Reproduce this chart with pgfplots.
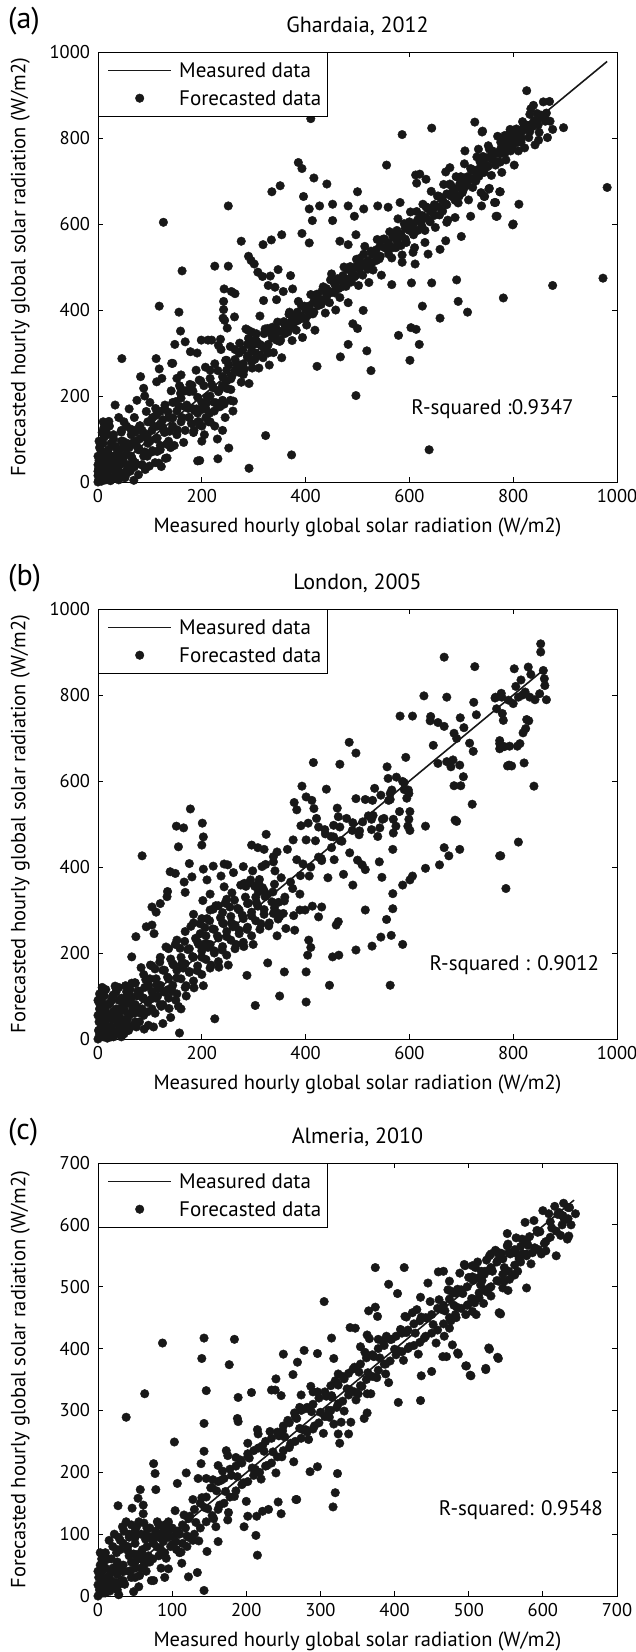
\documentclass[border=0pt]{standalone}
\usepackage{pgfplots}
\pgfplotsset{compat=1.18}
\usepackage{fontspec}
\setmainfont{PT Sans}
\definecolor{dk}{RGB}{24,24,24}
\newcommand{\tickfont}{\fontsize{18.5}{21}\selectfont}
\newcommand{\labfont}{\fontsize{20.5}{23}\selectfont}
\newcommand{\titfont}{\fontsize{22}{24}\selectfont}
\newcommand{\legfont}{\fontsize{21}{24}\selectfont}
\newcommand{\panfont}{\fontsize{30}{32}\selectfont}
\pgfplotsset{
 myax/.style={
  scale only axis, anchor=south west, width=519pt,
  clip=false, axis line style={line width=0.9pt, black},
  every tick/.style={black, line width=0.8pt}, major tick length=5pt,
  tick align=inside,
  /pgf/number format/assume math mode=true,
  /pgf/number format/1000 sep={},
  tick label style={font=\tickfont},
  yticklabel style={xshift=-4.5pt},
  xticklabel style={yshift=-4pt},
  xlabel={Measured hourly global solar radiation (W/m2)},
  ylabel={Forecasted hourly global solar radiation (W/m2)},
  every axis x label/.style={at={(rel axis cs:0.5,0)}, anchor=base, yshift=-50pt, font=\labfont},
  every axis y label/.style={at={(rel axis cs:0,0.5)}, anchor=base, rotate=90, yshift=72.5pt, font=\labfont},
  title style={at={(rel axis cs:0.5,1)}, anchor=base, yshift=14pt, font=\titfont},
  legend style={at={(rel axis cs:0,1)}, anchor=north west, draw=black, fill=white,
    inner xsep=4pt, inner ysep=4pt, row sep=0pt, font=\legfont,
    nodes={inner sep=2pt, text height=19pt, text depth=5pt}},
  legend cell align=left,
 },
 mline/.style={dk, line width=1.6pt,
   legend image code/.code={\draw[##1, line width=1pt] (0pt,0pt) -- (63pt,0pt); \path[draw=none,fill=none] (-6pt,0pt) -- (69pt,0pt);}},
 mdots/.style={only marks, mark=*, mark size=4.3pt, color=dk,
   legend image code/.code={\draw[##1] plot coordinates {(31.5pt,0pt)}; \path[draw=none,fill=none] (-6pt,0pt) -- (69pt,0pt);}},
}
\begin{document}
\begin{tikzpicture}
\path[use as bounding box] (0,0) rectangle (636pt,-1652pt);
% ---------------- (a) ----------------
\begin{axis}[myax, at={(98pt,-482pt)}, height=430pt,
  xmin=0, xmax=1000, ymin=0, ymax=1000,
  xtick={0,200,400,600,800,1000}, ytick={0,200,400,600,800,1000},
  title={Ghardaia, 2012}]
\addplot[mline] coordinates {(0,0) (981,978)};
\addlegendentry{Measured data}
\addplot[mdots] coordinates {
(0,0)(2,5)(3,12)(5,20)(1,30)(4,40)(2,50)(6,60)(8,8)(10,15)(12,25)(9,35)(14,45)(6,70)(3,80)(10,90)(15,5)(18,20)(20,35)(22,50)(25,60)(20,75)(28,10)(30,30)(32,45)(35,55)(38,70)(40,25)(42,40)(45,60)(25,90)(30,100)(12,105)(48,80)(50,45)(1,2)(0,15)(0,25)(7,2)(16,12)(35,15)(55,20)(0,60)(2,95)(8,115)(18,110)(0,40)(4,3)(24,3)(12,55)
(5,85)(15,70)(25,40)(35,80)(45,95)(55,65)(65,90)(60,40)(70,120)(80,100)(15,120)(22,130)(10,140)(50,140)(30,60)(20,10)(40,5)(52,10)(62,25)(70,35)(85,120)(95,110)(100,95)(105,150)(115,130)(125,145)
(40,150)(60,170)(75,190)(55,130)(90,200)(70,150)(100,185)(30,110)(45,120)
(78,17)(91,29)(122,36)(133,56)(114,71)(95,60)(110,45)(120,75)(130,55)(85,40)(140,80)
(185,120)(195,140)(205,110)(215,160)(225,130)(235,175)(245,150)(255,190)(200,95)(190,170)(230,100)(260,165)(175,150)(210,185)(240,120)
(40,25)(40,70)(48,55)(48,95)(56,30)(56,80)(64,60)(64,110)(72,45)(72,95)(80,75)(80,130)(88,60)(88,105)(96,90)(96,140)(104,70)(104,120)(112,100)(112,155)(120,85)(120,135)(128,115)(128,170)(136,95)(136,150)(144,130)(144,185)(152,110)(152,165)(160,140)(160,195)(168,120)(168,175)(176,150)(176,210)(184,115)(184,170)(192,160)(192,140)(200,130)(200,185)(208,170)(208,150)(216,140)(216,200)(224,185)(224,165)(232,210)(232,180)(240,225)(240,190)(248,235)(248,260)(256,240)(256,215)(264,260)(264,285)(272,255)(272,300)(280,275)(280,250)(288,290)(288,320)(296,280)(296,305)(304,300)(304,330)(312,295)(312,320)(320,310)(320,345)(328,320)(328,300)(336,335)(336,360)(344,330)(344,355)(352,350)(352,330)(360,365)(360,345)(368,370)(368,390)(376,380)(376,360)(384,395)(384,375)(392,385)(392,410)(400,400)(400,380)(408,410)(408,390)(416,420)(416,395)(424,430)(424,410)(432,445)(432,420)(440,450)(440,430)(448,440)(448,470)(456,460)(456,440)(464,470)(464,450)(472,480)(472,455)(480,470)(480,495)(488,490)(488,465)(496,500)(496,480)(504,495)(504,520)(512,505)(512,530)(520,515)(520,495)(528,530)(528,510)(536,540)(536,515)(544,550)(544,525)(552,545)(552,565)(560,555)(560,530)(568,570)(568,545)(576,560)(576,585)(584,575)(584,550)(592,590)(592,565)(600,585)(600,605)(608,600)(608,575)(616,610)(616,585)(624,620)(624,595)(632,615)(632,640)(640,630)(640,605)(648,645)(648,620)(656,640)(656,665)(664,655)(664,630)(672,670)(672,645)(680,665)(680,690)(688,680)(688,655)(696,690)(696,665)(704,700)(704,680)(712,710)(712,690)(720,705)(720,725)(728,720)(728,700)(736,730)(736,745)(744,740)(744,720)(752,755)(752,735)(760,750)(760,770)(768,765)(768,745)(776,775)(776,790)(784,780)(784,765)(792,790)(792,775)(800,800)(800,785)(808,805)(808,790)(816,815)(816,800)(824,820)(832,830)(832,815)(840,840)(848,845)(848,830)(856,850)(864,858)
(30,27)(33,83)(36,8)(39,67)(42,22)(45,116)(48,53)(51,11)(54,91)(57,25)(60,80)(63,123)(66,54)(69,4)(72,116)(75,83)(78,75)(81,131)(84,40)(87,115)(90,70)(93,164)(96,101)(99,37)(102,139)(105,73)(108,128)(111,171)(114,102)(117,44)(120,164)(123,131)(126,123)(129,179)(132,88)(135,163)(138,118)(141,212)(144,149)(147,85)(150,187)(153,121)(156,176)(159,219)(162,150)(165,92)(168,212)(171,179)(174,171)(177,227)(180,136)(183,211)(186,166)(189,260)(192,197)(195,133)(198,235)(201,169)(204,224)(207,267)(210,198)(213,140)(216,260)(219,227)(222,219)(225,275)(228,184)(231,259)(234,214)(237,308)(240,245)(243,181)(246,283)(249,217)(252,272)(255,315)(258,246)(261,188)(264,308)(267,275)(270,267)(273,323)(276,232)(279,307)(282,262)(285,356)(288,293)(291,229)(294,331)(297,265)(300,320)
(302,285)(306,326)(310,265)(314,318)(318,289)(322,356)(326,315)(330,272)(334,345)(338,301)(342,341)(346,372)(350,327)(354,289)(358,373)(362,353)(366,349)(370,390)(374,329)(378,382)(382,353)(386,420)(390,379)(394,336)(398,409)(402,365)(406,405)(410,436)(414,391)(418,353)(422,437)(426,417)(430,413)(434,454)(438,393)(442,446)(446,417)(450,484)(454,443)(458,400)(462,473)(466,429)(470,469)(474,500)(478,455)(482,417)(486,501)(490,481)(494,477)(498,518)(502,457)(506,510)(510,481)(514,548)(518,507)(522,464)(526,537)(530,493)(534,533)(538,564)(542,519)(546,481)(550,565)(554,545)(558,541)(562,582)(566,521)(570,574)(574,545)(578,612)(582,571)(586,528)(590,601)(594,557)(598,597)(602,628)(606,583)(610,545)(614,629)(618,609)(622,605)(626,646)(630,585)(634,638)(638,609)(642,676)(646,635)(650,592)(654,665)(658,621)(662,661)(666,692)(670,647)(674,609)(678,693)(682,673)(686,669)(690,710)(694,649)(698,702)(702,673)(706,740)(710,699)(714,656)(718,729)(722,685)(726,725)(730,756)(734,711)(738,673)(742,757)(746,737)(750,733)(754,774)(758,713)(762,766)(766,737)(770,804)(774,763)(778,720)(782,793)(786,749)(790,789)(794,820)(798,775)(802,737)(806,821)(810,801)(814,797)(818,838)(822,777)(826,830)(830,801)(834,868)(838,827)(842,784)(846,857)(850,813)(854,853)(858,884)(862,839)(866,801)(870,885)
(410,845)(726,837)(740,814)(643,823)(586,808)(784,806)(793,810)(799,598)(386,743)(393,729)(416,707)(441,693)(556,737)(335,675)(351,689)(396,664)(251,642)(126,604)(407,635)(427,642)(452,646)(482,642)(500,675)(512,635)(539,642)(559,639)(582,650)(413,608)(452,608)(494,618)(276,560)(318,552)(334,563)(354,575)(393,578)(407,556)(466,560)(482,552)(497,575)(290,525)(295,515)(301,507)(308,488)(317,478)(332,479)(328,457)(341,453)(347,494)(371,480)(225,502)(251,502)(162,491)(243,449)(257,443)(264,438)(242,420)(242,401)(241,381)(244,376)(249,358)(263,384)(118,409)(156,395)(159,351)(168,326)(148,320)(144,276)(178,303)(191,300)(199,330)(212,330)(219,330)(236,332)(232,318)(248,283)(290,334)(289,353)(296,349)(305,345)(312,386)(319,422)(344,424)(357,443)(375,449)(369,395)(378,372)(327,357)(46,287)(112,287)(118,263)(123,241)(82,245)(88,218)(113,233)(142,276)(152,241)(160,249)(157,224)(159,206)(181,225)(195,237)(216,241)(33,179)(21,141)(11,125)(323,108)(373,63)(291,32)(252,79)(231,54)(192,49)(196,50)(497,201)(638,75)(482,320)(467,291)(422,269)(518,305)(526,259)(579,341)(601,283)(603,359)(613,355)(619,320)(625,409)(659,381)(694,420)(712,395)(691,470)(643,463)(604,463)(566,459)(781,428)(511,399)(491,368)(500,357)(586,511)(611,507)(607,534)(630,557)(659,541)(670,561)(700,571)(636,530)(729,708)(754,683)(775,675)(745,664)(766,650)(769,618)(718,618)(739,642)(688,615)(672,604)(612,714)(620,716)(632,704)(614,695)(670,721)(678,731)(699,710)(733,774)(752,782)(775,744)(707,770)
(826,910)(839,876)(832,855)(855,851)(861,847)(871,839)(876,820)(897,824)(849,795)(981,685)(973,474)(876,457)(800,600)(811,646)(774,675)(753,681)(764,650)(767,618)(744,664)(741,816)(790,800)(805,812)(815,790)(820,825)(795,770)(810,770)
};
\addlegendentry{Forecasted data}
\node[anchor=base west, font=\legfont] at (axis cs:597,158) {R-squared :0.9347};
\node[anchor=base west, inner sep=0pt, font=\panfont] at (rel axis cs:0,1) [xshift=-90pt, yshift=24pt] {(a)};
\end{axis}
% ---------------- (b) ----------------
\begin{axis}[myax, at={(98pt,-1039pt)}, height=430pt,
  xmin=0, xmax=1000, ymin=0, ymax=1000,
  xtick={0,200,400,600,800,1000}, ytick={0,200,400,600,800,1000},
  title={London, 2005}]
\addplot[mline] coordinates {(0,0) (855,855)};
\addlegendentry{Measured data}
\addplot[mdots] coordinates {
(0,0)(3,10)(5,25)(2,40)(8,55)(4,70)(10,5)(12,20)(15,35)(18,50)(14,65)(20,80)(22,10)(25,28)(28,45)(30,60)(26,90)(35,15)(38,35)(40,50)(42,70)(45,5)(48,25)(50,45)(52,65)(55,85)(58,30)(60,55)(62,100)(1,20)(6,90)(12,100)(30,5)(35,110)(0,55)(2,85)(18,2)
(5,45)(10,35)(15,80)(22,55)(28,100)(35,70)(45,95)(55,110)(65,130)(70,60)(75,100)(85,70)(90,120)(100,140)(15,115)(8,120)(0,90)(40,120)(25,5)(50,12)(65,30)(80,40)
(110,60)(125,80)(140,50)(150,90)(160,70)(170,100)(115,100)(135,115)
(40,20)(40,55)(40,90)(48,35)(48,75)(56,45)(56,100)(56,20)(64,60)(64,95)(72,40)(72,80)(72,130)(80,70)(80,110)(88,55)(88,95)(88,150)(96,85)(96,125)(104,70)(104,110)(104,170)(112,95)(112,140)(120,80)(120,125)(120,190)(128,110)(128,160)(136,95)(136,140)(136,210)(144,125)(144,175)(152,105)(152,160)(152,230)(160,140)(160,190)(168,120)(168,175)(168,250)(176,155)(176,210)(184,135)(184,190)(184,270)(192,170)(192,225)(200,150)(200,205)(200,280)(208,185)(208,240)(216,165)(216,220)(216,300)(224,200)(224,255)(232,180)(232,235)(232,310)(240,215)(240,270)(248,195)(248,250)(256,230)(256,285)(264,210)(264,265)(272,245)(272,300)(280,225)(280,280)(288,260)(288,315)(296,240)(296,295)(304,275)(304,330)(312,255)(320,290)(320,345)(330,270)(340,305)(340,360)(350,285)(360,330)(375,350)(390,380)(410,400)(430,420)(450,445)(470,460)(490,485)(510,505)(530,520)(560,555)(590,580)
(20,21)(23,83)(26,20)(29,64)(32,13)(35,118)(38,48)(41,25)(44,90)(47,15)(50,76)(53,124)(56,46)(59,20)(62,115)(65,78)(68,69)(71,131)(74,28)(77,112)(80,61)(83,166)(86,96)(89,23)(92,138)(95,63)(98,124)(101,172)(104,94)(107,28)(110,163)(113,126)(116,117)(119,179)(122,76)(125,160)(128,109)(131,214)(134,144)(137,71)(140,186)(143,111)(146,172)(149,220)(152,142)(155,76)(158,211)(161,174)(164,165)(167,227)(170,124)(173,208)(176,157)(179,262)(182,192)(185,119)(188,234)(191,159)(194,220)(197,268)(200,190)(203,124)(206,259)(209,222)(212,213)(215,275)(218,172)(221,256)(224,205)(227,310)(230,240)(233,167)(236,282)(239,207)(242,268)(245,316)(248,238)(251,172)(254,307)(257,270)(260,261)(263,323)(266,220)(269,304)(272,253)(275,358)(278,288)(281,215)(284,330)(287,255)(290,316)(293,364)(296,286)(299,220)(302,355)(305,318)(308,309)(311,371)(314,268)(317,352)(320,301)(323,406)(326,336)(329,263)
(335,319)(341,391)(347,279)(353,375)(359,321)(365,441)(371,365)(377,287)(383,417)(389,337)(395,407)(401,463)(407,379)(413,309)(419,461)(425,423)(431,415)(437,487)(443,375)(449,471)(455,417)(461,537)(467,461)(473,383)(479,513)(485,433)(491,503)(497,559)(503,475)(509,405)(515,557)(521,519)(527,511)(533,583)(539,471)(545,567)(551,513)(557,633)(563,557)(569,479)(575,609)(581,529)(587,599)(593,655)(599,571)
(667,888)(726,866)(628,798)(672,795)(766,795)(777,804)(582,751)(606,751)(641,750)(640,740)(655,736)(667,727)(698,747)(729,754)(724,783)(646,683)(655,641)(672,645)(686,711)(691,699)(705,724)(716,688)(723,669)(684,649)(680,633)(697,637)(704,610)(686,589)(699,589)(721,546)(688,509)(691,506)(667,445)(676,426)(697,441)(658,405)(631,495)(631,397)(774,694)(783,680)(792,637)(774,426)(786,350)(484,690)(497,665)(466,639)(415,643)(440,581)(393,588)(378,550)(383,533)(401,563)(412,555)(416,536)(421,513)(405,502)(391,496)(376,463)(425,493)(438,477)(454,497)(463,517)(466,493)(454,470)(559,606)(566,579)(529,555)(563,571)(590,596)(598,579)(595,560)(601,529)(599,511)(597,495)(601,485)(574,495)(569,511)(548,511)(543,491)(527,487)(504,484)(568,441)(542,412)(547,376)(568,338)(568,303)(587,358)(601,370)(606,379)(587,220)(556,278)(565,241)(545,237)(528,216)(497,207)(515,300)(491,358)(515,394)(500,416)(563,125)(446,125)(452,191)(464,195)(463,273)(459,265)(431,307)(425,284)(406,230)(410,213)(404,195)(401,156)(401,86)(399,300)(389,300)(359,156)(350,100)(303,78)(225,47)(157,14)(327,177)(287,148)(345,240)(379,253)(362,257)(357,292)(348,292)(338,292)(348,318)(337,342)(322,331)(309,342)(309,362)(294,370)(298,391)(280,401)(285,355)(282,362)(261,387)(250,405)(243,407)(222,402)(203,395)(210,370)(202,322)(216,337)(237,379)(243,354)(248,325)(258,340)(240,294)(222,302)(296,451)(308,445)(320,441)(324,476)(338,424)(345,435)(338,412)(316,401)(178,535)(151,495)(165,491)(155,447)(201,502)(203,470)(200,451)(139,389)(149,385)(176,408)(181,377)(168,341)(166,365)(133,331)(134,343)(120,315)(104,307)(112,295)(104,265)(93,261)(108,245)(85,426)(73,238)(65,191)(184,290)(210,280)(197,245)(203,220)(3,105)(3,70)(33,123)(30,103)(97,32)(125,36)
(853,919)(853,900)(829,865)(802,861)(834,848)(815,835)(858,857)(860,838)(861,822)(851,803)(864,789)(842,789)(832,795)(823,807)(810,795)(800,780)(791,788)(778,795)(765,793)(768,768)(779,757)(781,741)(826,743)(830,740)(824,722)(819,712)(813,687)(808,681)(793,681)(774,687)(774,675)(789,635)(797,635)(821,642)(840,588)(810,458)(776,426)(818,800)(805,820)
};
\addlegendentry{Forecasted data}
\node[anchor=base west, font=\legfont] at (axis cs:632,159) {R-squared : 0.9012};
\node[anchor=base west, inner sep=0pt, font=\panfont] at (rel axis cs:0,1) [xshift=-90pt, yshift=24pt] {(b)};
\end{axis}
% ---------------- (c) ----------------
\begin{axis}[myax, at={(98pt,-1596pt)}, height=433pt,
  xmin=0, xmax=700, ymin=0, ymax=700,
  xtick={0,100,200,300,400,500,600,700}, ytick={0,100,200,300,400,500,600,700},
  title={Almeria, 2010}]
\addplot[mline] coordinates {(0,0) (642,640)};
\addlegendentry{Measured data}
\addplot[mdots] coordinates {
(0,0)(2,10)(4,20)(1,30)(6,40)(3,50)(8,5)(10,15)(12,30)(14,60)(5,60)(16,8)(18,25)(20,45)(2,3)(0,18)(7,28)(0,40)(3,70)
(28,95)(33,112)(42,100)(52,112)(62,118)(72,96)(78,105)(88,88)(95,120)(102,96)(110,100)(118,110)(20,80)(15,90)(10,70)(8,55)(16,35)(24,22)(35,40)(45,55)(62,50)(70,55)(110,70)(120,80)(128,90)
(25,70)(30,90)(35,105)(40,80)(45,115)(50,95)(55,120)(60,75)(65,100)(70,110)(75,85)(80,120)(22,100)(38,120)(58,60)(68,65)(30,75)(48,68)(85,100)(90,115)(95,95)(100,110)(105,88)
(30,20)(45,30)(55,15)(65,40)(75,25)(85,45)(50,45)(90,30)
(10,5)(10,25)(10,45)(18,15)(18,40)(18,60)(26,10)(26,35)(26,55)(26,75)(34,25)(34,50)(34,85)(42,40)(42,65)(42,95)(50,30)(50,55)(50,85)(50,105)(58,45)(58,70)(58,100)(66,55)(66,80)(66,110)(74,60)(74,90)(82,65)(82,95)(82,115)(90,70)(90,100)(98,80)(98,110)(106,75)(106,105)(114,85)(114,115)(122,95)(122,125)(130,100)(130,140)(138,110)(138,150)(146,120)(146,160)(154,130)(154,175)(162,140)(162,185)(170,150)(170,190)(178,160)(178,205)(186,170)(186,210)(194,180)(194,215)(202,185)(202,225)(210,195)(210,235)(218,200)(218,240)(226,210)(226,250)(234,215)(234,255)(242,225)(242,265)(250,235)(250,275)(258,240)(258,280)(266,250)(266,290)(274,255)(274,300)(282,265)(282,305)(290,270)(290,310)(298,280)(298,320)(306,290)(306,330)(314,300)(314,340)(322,305)(322,345)(330,315)(330,355)(338,325)(338,360)(346,330)(346,370)(354,340)(354,375)(362,350)(362,385)(370,355)(370,390)(378,365)(378,400)(386,375)(386,405)(394,380)(394,415)(402,390)(402,420)(410,395)(410,425)(418,400)(418,430)(426,405)(426,440)(434,410)(434,445)(442,420)(442,450)(450,425)(450,455)(458,430)(458,465)(466,440)(466,470)(474,450)(474,480)(482,455)(482,490)(490,465)(490,495)(498,470)(498,500)(506,480)(506,510)(514,490)(514,515)(522,495)(522,525)(530,500)(530,530)(538,510)(538,540)(546,520)(546,545)(554,525)(554,555)(562,535)(562,560)(570,540)(570,565)(578,550)(578,575)(586,555)(594,560)(594,590)(602,570)(610,580)(610,605)(618,590)(626,600)(626,615)(634,610)
(20,13)(24,47)(28,2)(32,42)(36,19)(40,74)(44,41)(48,7)(52,67)(56,33)(60,65)(64,92)(68,55)(72,25)(76,95)(80,79)(84,77)(88,111)(92,61)(96,106)(100,83)(104,138)(108,105)(112,71)(116,131)(120,97)(124,129)(128,156)(132,119)(136,89)(140,159)(144,143)(148,141)(152,175)(156,125)(160,170)(164,147)(168,202)(172,169)(176,135)(180,195)(184,161)(188,193)(192,220)(196,183)(200,153)(204,223)(208,207)(212,205)(216,239)(220,189)(224,234)(228,211)(232,266)(236,233)(240,199)(244,259)(248,225)(252,257)(256,284)(260,247)(264,217)(268,287)(272,271)(276,269)(280,303)(284,253)(288,298)(292,275)(296,330)(300,297)(304,263)(308,323)(312,289)(316,321)(320,348)(324,311)(328,281)(332,351)(336,335)(340,333)(344,367)(348,317)(352,362)(356,339)(360,394)(364,361)(368,327)(372,387)(376,353)(380,385)(384,412)(388,375)(392,345)(396,415)(400,399)(404,397)(408,431)(412,381)(416,426)(420,403)(424,458)(428,425)(432,391)(436,451)(440,417)(444,449)(448,476)(452,439)(456,409)(460,479)(464,463)(468,461)(472,495)(476,445)(480,490)(484,467)(488,522)(492,489)(496,455)(500,515)(504,481)(508,513)(512,540)(516,503)(520,473)(524,543)(528,527)(532,525)(536,559)(540,509)(544,554)(548,531)(552,586)(556,553)(560,519)(564,579)(568,545)(572,577)(576,604)(580,567)(584,537)(588,607)(592,591)(596,589)(600,623)(604,573)(608,618)(612,595)(616,630)(620,617)(624,583)(628,635)(632,609)(636,628)
(87,409)(38,289)(63,327)(143,417)(140,384)(184,415)(177,374)(146,332)(143,279)(103,249)(143,234)(139,214)(189,321)(207,329)(188,287)(189,282)(75,214)(77,198)(78,172)(57,172)(54,158)(61,147)(61,133)(27,146)(46,142)(162,211)(119,199)(107,182)(135,190)(146,190)(155,188)(166,187)(173,235)(175,227)(186,224)(202,230)(215,269)(216,262)(222,243)(202,247)(239,333)(250,391)(240,351)(234,333)(247,324)(263,358)(269,378)(278,397)(296,392)(287,339)(290,330)(274,325)(265,296)(272,305)(280,269)(249,267)(222,137)(230,140)(247,133)(243,152)(268,156)(215,66)(213,98)(214,129)(202,129)(197,112)(143,9)(134,38)(122,31)(95,44)(113,53)(162,88)(175,123)(159,112)(147,72)(305,476)(315,417)(318,384)(324,359)(324,341)(315,324)(311,300)(332,299)(341,281)(338,262)(326,247)(324,262)(318,278)(323,198)(320,167)(317,144)(296,209)(286,201)(267,156)(340,434)(347,433)(354,403)(363,422)(374,531)(413,531)(392,504)(404,489)(374,467)(365,461)(377,452)(366,416)(378,415)(389,420)(388,359)(405,313)(435,316)(436,356)(450,363)(363,296)(359,287)(363,327)(351,327)(414,452)(416,451)(430,463)(435,483)(459,524)(445,506)(470,387)(486,391)(497,372)(503,356)(523,366)(528,399)(540,384)(543,456)(495,534)(509,531)(528,550)(540,554)(552,566)(505,516)
(634,628)(644,618)(638,600)(635,582)(633,577)(627,615)(622,620)(629,609)(618,550)(604,558)(598,553)(593,588)(589,563)(582,581)(578,571)(573,553)(578,553)(564,554)(553,569)(541,555)(530,553)(539,542)(530,531)(517,525)(505,534)(494,536)(566,525)(562,519)(555,512)(548,509)(546,498)(553,494)(578,498)(541,458)(530,485)(528,498)(524,492)(521,520)(518,510)(514,482)(508,474)(499,471)(510,455)(505,460)(485,496)(476,493)(474,509)(466,525)(480,470)(483,450)(474,433)(467,420)(478,406)(485,393)(465,387)(496,372)(502,357)(523,368)(527,401)(539,386)
};
\addlegendentry{Forecasted data}
\node[anchor=base west, font=\legfont] at (axis cs:455,130) {R-squared: 0.9548};
\node[anchor=base west, inner sep=0pt, font=\panfont] at (rel axis cs:0,1) [xshift=-90pt, yshift=24pt] {(c)};
\end{axis}
\end{tikzpicture}
\end{document}
